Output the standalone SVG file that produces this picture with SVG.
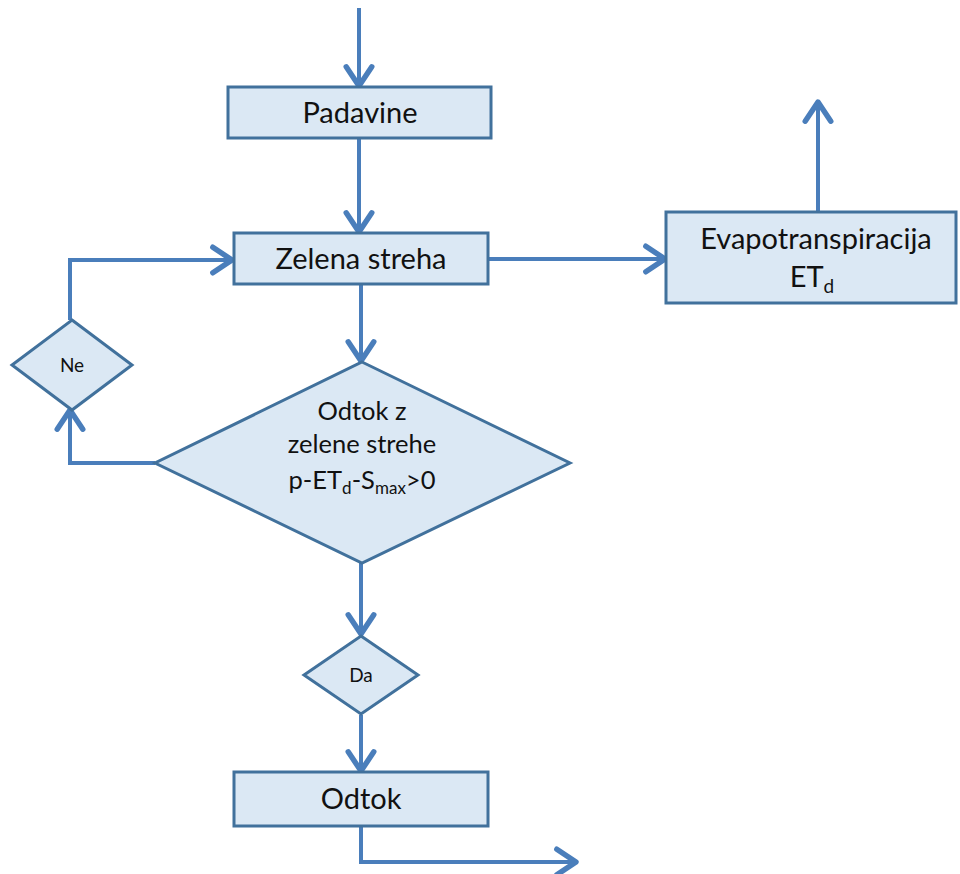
<svg xmlns="http://www.w3.org/2000/svg" width="960" height="874" viewBox="0 0 960 874">
<style>
.box{fill:#dbe8f4;stroke:#41719c;stroke-width:3}
.con{fill:none;stroke:#4a7ebb;stroke-width:4}
text{font-family:Lato,"Open Sans","Liberation Sans",sans-serif;fill:#111;text-anchor:middle}
.big{font-size:29px}
.mid{font-size:25.5px}
.sm{font-size:19px}
</style>
<defs>
<marker id="arr" viewBox="0 0 20 20" refX="17" refY="10" markerWidth="8" markerHeight="8" markerUnits="strokeWidth" orient="auto">
<polyline points="5,2 17,10 5,18" fill="none" stroke="#4a7ebb" stroke-width="3.4" stroke-linecap="round" stroke-linejoin="round"/>
</marker>
</defs>
<rect width="960" height="874" fill="#fff"/>
<g id="connectors">
<line class="con" x1="359" y1="8" x2="359" y2="86" marker-end="url(#arr)"/>
<line class="con" x1="359" y1="139" x2="359" y2="232" marker-end="url(#arr)"/>
<line class="con" x1="488" y1="259" x2="665" y2="259" marker-end="url(#arr)"/>
<line class="con" x1="818" y1="212" x2="818" y2="102" marker-end="url(#arr)"/>
<line class="con" x1="361" y1="285" x2="361" y2="361" marker-end="url(#arr)"/>
<polyline class="con" points="155,463 70,463 70,410" marker-end="url(#arr)"/>
<polyline class="con" points="70,320 70,260 232,260" marker-end="url(#arr)"/>
<line class="con" x1="361" y1="563" x2="361" y2="634" marker-end="url(#arr)"/>
<line class="con" x1="361" y1="715" x2="361" y2="771" marker-end="url(#arr)"/>
<polyline class="con" points="361,827 361,862 576,862" marker-end="url(#arr)"/>
</g>
<g id="padavine">
<rect class="box" x="228" y="87" width="263" height="51"/>
<text class="big" x="360" y="123">Padavine</text>
</g>
<g id="zelena">
<rect class="box" x="234" y="233" width="254" height="51"/>
<text class="big" x="361" y="269">Zelena streha</text>
</g>
<g id="evapo">
<rect class="box" x="666" y="212" width="290" height="91"/>
<text class="big" x="816" y="249">Evapotranspiracija</text>
<text class="big" x="812" y="287">ET<tspan font-size="19" dy="6">d</tspan></text>
</g>
<g id="odtok-z">
<polygon class="box" points="362,362 570,463 362,563 155,463"/>
<text class="mid" x="362" y="420">Odtok z</text>
<text class="mid" x="362" y="453">zelene strehe</text>
<text class="mid" x="362" y="489">p-ET<tspan font-size="17" dy="5">d</tspan><tspan dy="-5">-S</tspan><tspan font-size="17" dy="5">max</tspan><tspan dy="-5">&gt;0</tspan></text>
</g>
<g id="ne">
<polygon class="box" points="72,320 132,365 72,410 12,365"/>
<text class="sm" x="72" y="372">Ne</text>
</g>
<g id="da">
<polygon class="box" points="361,636 418,675 361,714 304,675"/>
<text class="sm" x="361" y="682">Da</text>
</g>
<g id="odtok">
<rect class="box" x="234" y="772" width="254" height="54"/>
<text class="big" x="361" y="809">Odtok</text>
</g>
</svg>
